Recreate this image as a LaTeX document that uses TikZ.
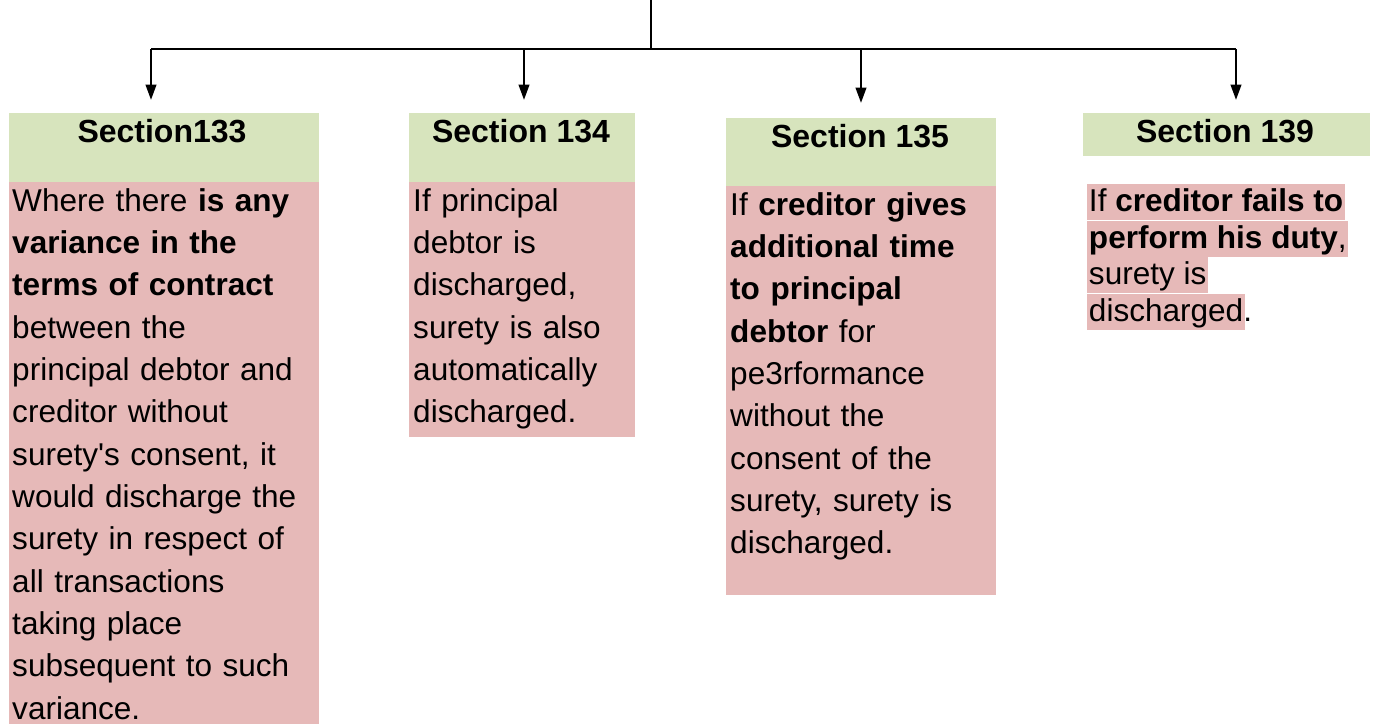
\documentclass[tikz,border=0pt]{standalone}
\usepackage{fontspec}
\setmainfont{Liberation Sans}
\usetikzlibrary{arrows.meta}
\tikzset{>={Triangle[length=4.4pt,width=3pt]}}
\definecolor{secgreen}{HTML}{D7E4BD}
\definecolor{rulepink}{HTML}{E6B9B8}
\tikzset{
  headfill/.style = {fill=secgreen, inner sep=0pt, anchor=north west},
  bodyfill/.style = {fill=rulepink, inner sep=0pt, anchor=north west},
  headtext/.style = {inner sep=0pt, font=\bfseries\fontsize{9.1}{12}\selectfont},
  bodytext/.style = {inner sep=0pt, anchor=base west, align=left, text width=#1,
                     font=\fontsize{8.97}{12.04}\selectfont},
  markline/.style = {fill=rulepink, inner xsep=0.5pt, inner ysep=0pt, anchor=base west,
                     text height=7.8pt, text depth=2.6pt, font=\fontsize{8.97}{10.4}\selectfont}
}

\begin{document}
\begin{tikzpicture}[x=0.01cm, y=-0.01cm, line width=0.7pt]
\useasboundingbox (0,0) rectangle (1375,724);

% tree of arrows
\coordinate (root) at (651,0);
\coordinate (fork) at (651,49);
\coordinate (arm1) at (151,49);
\coordinate (arm2) at (524,49);
\coordinate (arm3) at (861,49);
\coordinate (arm4) at (1236,49);
\coordinate (tip1) at (151,100);
\coordinate (tip2) at (524,100);
\coordinate (tip3) at (861,103);
\coordinate (tip4) at (1236,100);
\draw (root) -- (fork);
\draw (arm1) -- (arm4);
\foreach \i in {1,...,4}
  \draw[->] (arm\i) -- (tip\i);

% Section 133
\node[headfill, minimum width=3.10cm, minimum height=0.69cm] (g1) at (8,112) {};
\node[bodyfill, minimum width=3.10cm, minimum height=5.43cm] (p1) at (8,181) {};
\node[headtext] (s1) at (162,131) {Section133};
\node[bodytext=3.05cm] (t1) at (11,211) {Where there \textbf{is any}\\
  \textbf{variance in the}\\ \textbf{terms of contract}\\ between the\\
  principal debtor and\\ creditor without\\ surety\textquotesingle s consent, it\\
  would discharge the\\ surety in respect of\\ all transactions\\ taking place\\
  subsequent to such\\ variance.};

% Section 134
\node[headfill, minimum width=2.26cm, minimum height=0.69cm] (g2) at (408,112) {};
\node[bodyfill, minimum width=2.26cm, minimum height=2.55cm] (p2) at (408,181) {};
\node[headtext] (s2) at (521,131) {Section 134};
\node[bodytext=2.2cm] (t2) at (412,211) {If principal\\ debtor is\\ discharged,\\
  surety is also\\ automatically\\ discharged.};

% Section 135
\node[headfill, minimum width=2.70cm, minimum height=0.68cm] (g3) at (725,117) {};
\node[bodyfill, minimum width=2.70cm, minimum height=4.09cm] (p3) at (725,185) {};
\node[headtext] (s3) at (860,136) {Section 135};
\node[bodytext=2.65cm] (t3) at (729,215) {If \textbf{creditor gives}\\
  \textbf{additional time}\\ \textbf{to principal}\\ \textbf{debtor} for\\
  pe3rformance\\ without the\\ consent of the\\ surety, surety is\\ discharged.};

% Section 139
\node[headfill, minimum width=2.87cm, minimum height=0.43cm] (g4) at (1082,112) {};
\node[headtext] (s4) at (1225,131) {Section 139};
\node[markline] (m1) at (1086,211) {If \textbf{creditor fails to}};
\node[markline] (m2) at (1086,248) {\textbf{perform his duty},};
\node[markline] (m3) at (1086,284) {surety is\ };
\node[markline] (m4) at (1086,321) {discharged};
\node[inner sep=0pt, anchor=base west, font=\fontsize{8.97}{10.4}\selectfont]
  (dot4) at ([xshift=-1.2pt]m4.base east) {.};
\end{tikzpicture}
\end{document}
